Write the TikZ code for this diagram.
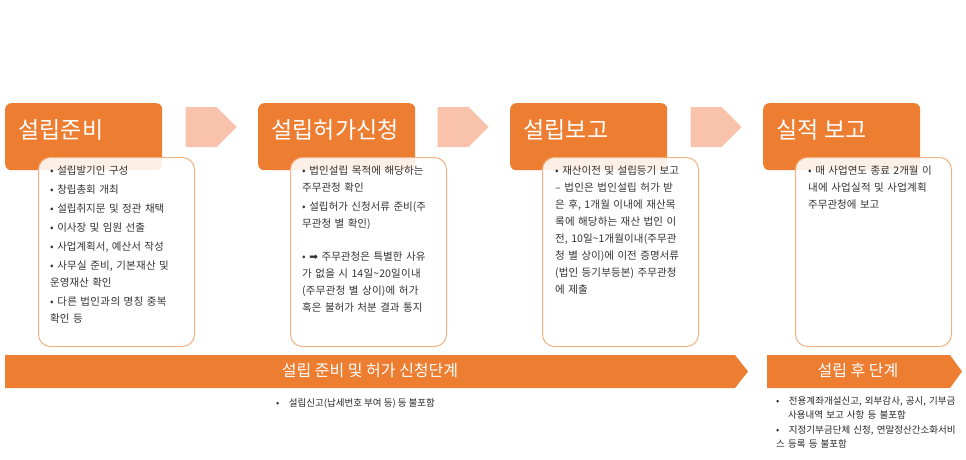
\documentclass[tikz,border=0pt]{standalone}
\usepackage{fontspec}
\setmainfont{Noto Sans CJK KR}
\XeTeXlinebreaklocale "ko"
\XeTeXlinebreakskip=0pt plus 1pt
\usetikzlibrary{shapes.arrows}
\definecolor{org}{HTML}{ED7D31}
\definecolor{peach}{HTML}{F8C3AA}
\definecolor{lorg}{HTML}{F4B183}
\begin{document}
\begin{tikzpicture}[x=1pt,y=-1pt,
  head/.style={fill=org,rounded corners=6pt,minimum width=157pt,minimum height=67pt,anchor=north west,inner sep=0},
  htext/.style={text=white,font=\fontsize{23}{26}\selectfont,anchor=west},
  card/.style={draw=lorg,line width=1pt,fill=white,fill opacity=0.88,text opacity=1,rounded corners=12pt,minimum width=156pt,minimum height=189pt,anchor=north west,inner sep=0},
  body/.style={anchor=north west,text width=124pt,font=\fontsize{10.5}{17}\selectfont,align=left,inner sep=0,text=black!80},
  chev/.style={single arrow,fill=peach,draw=none,minimum height=51pt,minimum width=40pt,single arrow head extend=0pt,inner sep=0},
  bar/.style={fill=org,draw=none},
  bartext/.style={text=white,font=\fontsize{16}{18}\selectfont},
  note/.style={anchor=north west,font=\fontsize{9.5}{14.5}\selectfont,align=left,inner sep=0,text=black!85}]
\useasboundingbox (0,0) rectangle (966,460);
\foreach \i/\x/\t in {1/5/설립준비,2/258/설립허가신청,3/510/설립보고,4/763/실적 보고}{
  \node[head] (h\i) at (\x,103) {};
  \node[htext] (ht\i) at (\x+10,130) {\t};
}
\foreach \i/\x in {1/38,2/290,3/542,4/795}{
  \node[card] (c\i) at (\x,157) {};
}
\node[chev] (a1) at (201,127) {};
\node[chev] (a2) at (453,127) {};
\node[chev] (a3) at (706,127) {};
\node[body] (b1) at (50,166) {\setlength{\parskip}{2pt}%
• 설립발기인 구성\par • 창립총회 개최\par • 설립취지문 및 정관 채택\par • 이사장 및 임원 선출\par • 사업계획서, 예산서 작성\par • 사무실 준비, 기본재산 및 운영재산 확인\par • 다른 법인과의 명칭 중복 확인 등};
\node[body] (b2) at (302,166) {\setlength{\parskip}{2pt}%
• 법인설립 목적에 해당하는 주무관청 확인\par • 설립허가 신청서류 준비(주무관청 별 확인)\par\vspace{14pt}%
• {\fontspec{DejaVu Sans}➡} 주무관청은 특별한 사유가 없을 시 14일\textasciitilde 20일이내(주무관청 별 상이)에 허가 혹은 불허가 처분 결과 통지};
\node[body] (b3) at (555,166) {• 재산이전 및 설립등기 보고 – 법인은 법인설립 허가 받은 후, 1개월 이내에 재산목록에 해당하는 재산 법인 이전, 10일\textasciitilde 1개월이내(주무관청 별 상이)에 이전 증명서류(법인 등기부등본) 주무관청에 제출};
\node[body] (b4) at (808,166) {• 매 사업연도 종료 2개월 이내에 사업실적 및 사업계획 주무관청에 보고};
\fill[bar] (5,355) -- (735,355) -- (748,371.5) -- (735,388) -- (5,388) -- cycle;
\node[bartext] (t1) at (370,370) {설립 준비 및 허가 신청단계};
\fill[bar] (767,355) -- (950,355) -- (962,371.5) -- (950,388) -- (767,388) -- cycle;
\node[bartext] (t2) at (858,370) {설립 후 단계};
\node[note] (n1) at (276,398) {•\quad 설립신고(납세번호 부여 등) 등 불포함};
\node[note,text width=180pt] (n2) at (776,396) {%
\hangindent=12pt\hangafter=1 •\ \ \ 전용계좌개설신고, 외부감사, 공시, 기부금사용내역 보고 사항 등 불포함\par
\hangindent=12pt\hangafter=1 •\ \ \ 지정기부금단체 신청, 연말정산간소화서비스 등록 등 불포함};
\end{tikzpicture}
\end{document}
